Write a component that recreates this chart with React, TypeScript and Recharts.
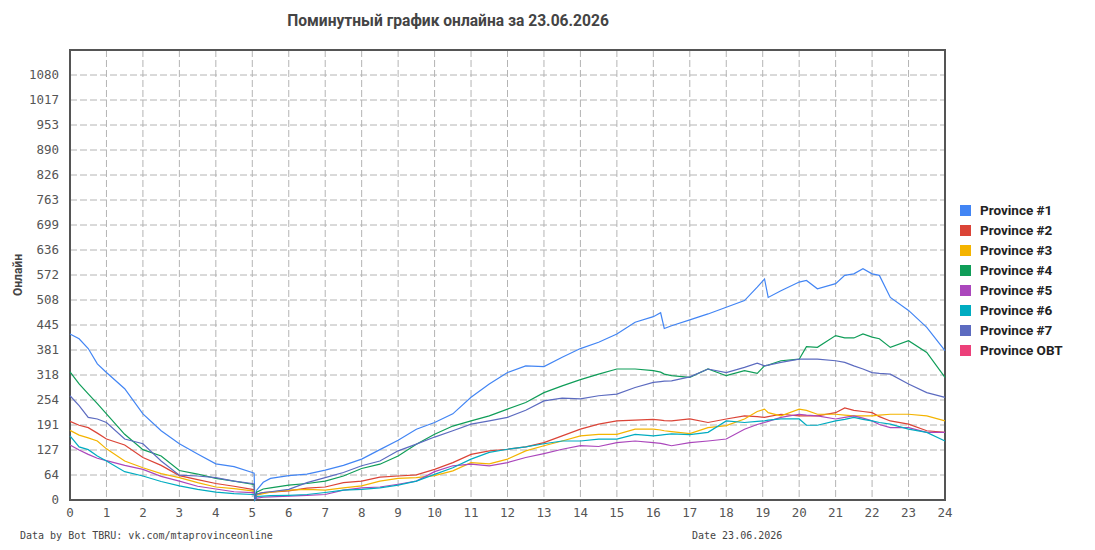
import {
  LineChart,
  Line,
  XAxis,
  YAxis,
  CartesianGrid,
  ReferenceArea,
} from "recharts";

// hours of the day (non-uniform: extra points around the 5:00 reset and peaks)
const HOURS = [
  0, 0.25, 0.5, 0.75, 1, 1.5, 2, 2.5, 3, 3.5, 4, 4.5, 5,
  5.05, 5.07, 5.12, 5.3, 5.5,
  6, 6.5, 7, 7.5, 8, 8.5, 9, 9.5, 10,
  10.5, 11, 11.5, 12, 12.5, 13, 13.5, 14, 14.5, 15, 15.5, 16,
  16.2, 16.3, 16.5, 17, 17.5, 18, 18.5,
  18.85, 19.05, 19.15, 19.5, 20, 20.2, 20.5, 21,
  21.25, 21.5, 21.75, 22, 22.2, 22.5, 23, 23.5, 24,
];

const P1 = [
  422, 410, 385, 346, 324, 283, 219, 176, 143, 117, 92, 85, 70,
  68, 0, 25, 45, 55,
  62, 66, 76, 88, 104, 128, 152, 180, 197,
  219, 261, 295, 324, 341, 339, 363, 385, 401, 422, 452, 466,
  476, 436, 443, 458, 473, 490, 507,
  541, 562, 515, 532, 554, 558, 537, 550,
  571, 575, 588, 575, 571, 515, 482, 439, 380,
];
const P2 = [
  200, 190, 184, 170, 155, 140, 108, 88, 62, 52, 42, 35, 27,
  26, 0, 15, 19, 20,
  23, 30, 33, 44, 48, 58, 61, 64, 78,
  95, 116, 125, 129, 135, 146, 163, 180, 193, 201, 203, 205,
  203, 202, 201, 206, 197, 206, 214,
  212, 210, 212, 218, 214, 214, 214, 222,
  234, 228, 225, 222, 212, 201, 193, 176, 172,
];
const P3 = [
  177, 165, 158, 150, 130, 99, 82, 67, 57, 44, 33, 29, 23,
  22, 0, 12, 16, 20,
  25, 27, 25, 31, 36, 48, 55, 57, 62,
  74, 95, 92, 104, 125, 138, 150, 163, 167, 167, 180, 180,
  178, 176, 174, 169, 184, 189, 206,
  225, 231, 222, 214, 231, 228, 218, 218,
  216, 214, 214, 214, 216, 218, 218, 214, 201,
];
const P4 = [
  326, 295, 270, 245, 219, 167, 128, 112, 75, 66, 55, 48, 40,
  39, 0, 20, 28, 31,
  38, 42, 48, 61, 80, 91, 112, 142, 167,
  188, 201, 214, 231, 248, 273, 290, 306, 320, 333, 333, 329,
  325, 320, 316, 312, 333, 316, 329,
  322, 341, 343, 354, 358, 390, 388, 418,
  412, 412, 422, 414, 410, 388, 405, 375, 312,
];
const P5 = [
  140, 127, 116, 106, 100, 88, 78, 60, 48, 35, 28, 21, 19,
  19, 0, 5, 7, 8,
  10, 12, 14, 25, 31, 33, 40, 48, 72,
  87, 91, 87, 95, 108, 118, 129, 138, 136, 146, 150, 146,
  144, 142, 138, 146, 150, 155, 180,
  192, 197, 200, 210, 218, 216, 214, 206,
  210, 214, 208, 201, 192, 184, 184, 172, 172,
];
const P6 = [
  163, 135, 128, 112, 99, 72, 61, 47, 36, 27, 20, 16, 14,
  14, 0, 9, 10, 11,
  12, 14, 19, 25, 27, 31, 38, 48, 65,
  82, 104, 121, 129, 135, 143, 150, 150, 155, 155, 167, 163,
  165, 166, 168, 166, 172, 201, 197,
  200, 201, 203, 206, 206, 190, 190, 201,
  205, 210, 205, 201, 197, 193, 180, 172, 150,
];
const P7 = [
  265, 240, 210, 206, 197, 155, 143, 99, 63, 61, 57, 48, 42,
  41, 0, 15, 19, 21,
  27, 44, 57, 70, 87, 99, 125, 142, 160,
  176, 193, 201, 210, 228, 252, 259, 257, 265, 269, 286, 299,
  301, 302, 303, 313, 333, 324, 337,
  348, 341, 343, 350, 358, 358, 358, 354,
  350, 341, 333, 324, 322, 320, 295, 273, 261,
];

const SERIES = [
  { key: "p1", name: "Province #1", color: "#4285f4", values: P1 },
  { key: "p2", name: "Province #2", color: "#db4437", values: P2 },
  { key: "p3", name: "Province #3", color: "#f4b400", values: P3 },
  { key: "p4", name: "Province #4", color: "#0f9d58", values: P4 },
  { key: "p5", name: "Province #5", color: "#ab47bc", values: P5 },
  { key: "p6", name: "Province #6", color: "#00acc1", values: P6 },
  { key: "p7", name: "Province #7", color: "#5c6bc0", values: P7 },
  // no online data for OBT on this day, legend only
  { key: "obt", name: "Province OBT", color: "#ec407a", values: [] as number[] },
];

const X_TICKS = Array.from({ length: 25 }, (_, i) => i);
const Y_MAX = 1144;
const Y_TICKS = Array.from({ length: 19 }, (_, i) => (i * Y_MAX) / 18);

const rows = HOURS.map((h, i) => {
  const row: Record<string, number> = { h };
  SERIES.forEach((s) => {
    if (s.values.length) row[s.key] = s.values[i];
  });
  return row;
});

const mono = "'DejaVu Sans Mono', monospace";
const sans = "Roboto, 'Noto Sans', sans-serif";

export default function App() {
  return (
    <div
      style={{
        position: "fixed",
        left: 0,
        top: 0,
        width: 1095,
        height: 550,
        background: "#fff",
      }}
    >
      <div
        style={{
          position: "absolute",
          left: 0,
          width: 896,
          top: 12,
          textAlign: "center",
          fontFamily: sans,
          fontWeight: 700,
          fontSize: 15.6,
          color: "#444",
        }}
      >
        Поминутный график онлайна за 23.06.2026
      </div>
      <div
        style={{
          position: "absolute",
          left: 18,
          top: 275,
          transform: "translate(-50%, -50%) rotate(-90deg)",
          fontFamily: sans,
          fontWeight: 700,
          fontSize: 12,
          color: "#444",
          whiteSpace: "nowrap",
        }}
      >
        Онлайн
      </div>
      <LineChart
        width={1095}
        height={550}
        data={rows}
        margin={{ top: 50, right: 150, left: 10, bottom: 20 }}
      >
        <CartesianGrid stroke="#b4b4b4" strokeDasharray="7 3" />
        <XAxis
          dataKey="h"
          type="number"
          domain={[0, 24]}
          ticks={X_TICKS}
          interval={0}
          height={30}
          axisLine={false}
          tickLine={false}
          tickSize={0}
          tickMargin={8}
          tick={{ fill: "#555", fontSize: 12.5, fontFamily: mono }}
        />
        <YAxis
          type="number"
          domain={[0, Y_MAX]}
          ticks={Y_TICKS}
          interval={0}
          width={60}
          axisLine={false}
          tickLine={false}
          tickSize={0}
          tickMargin={11}
          tickFormatter={(v: number) => (v >= Y_MAX ? "" : String(Math.round(v)))}
          tick={{ fill: "#555", fontSize: 12.5, fontFamily: mono }}
        />
        <ReferenceArea
          x1={0}
          x2={24}
          y1={0}
          y2={Y_MAX}
          fill="none"
          stroke="#555"
          strokeWidth={2}
        />
        {SERIES.filter((s) => s.values.length).map((s) => (
          <Line
            key={s.key}
            dataKey={s.key}
            name={s.name}
            type="linear"
            stroke={s.color}
            strokeWidth={1.2}
            dot={false}
            activeDot={false}
            isAnimationActive={false}
          />
        ))}
      </LineChart>
      <div
        style={{
          position: "absolute",
          left: 960,
          top: 200,
          fontFamily: sans,
          fontWeight: 700,
          fontSize: 13.5,
          color: "#222",
        }}
      >
        {SERIES.map((s) => (
          <div key={s.key} style={{ display: "flex", alignItems: "center", height: 20 }}>
            <span style={{ width: 11, height: 11, background: s.color, marginRight: 9 }} />
            {s.name}
          </div>
        ))}
      </div>
      <div
        style={{
          position: "absolute",
          left: 20,
          top: 530,
          fontFamily: mono,
          fontSize: 10,
          color: "#444",
          whiteSpace: "nowrap",
        }}
      >
        Data by Bot TBRU: vk.com/mtaprovinceonline
      </div>
      <div
        style={{
          position: "absolute",
          left: 692,
          top: 530,
          fontFamily: mono,
          fontSize: 10,
          color: "#444",
          whiteSpace: "nowrap",
        }}
      >
        Date 23.06.2026
      </div>
    </div>
  );
}
